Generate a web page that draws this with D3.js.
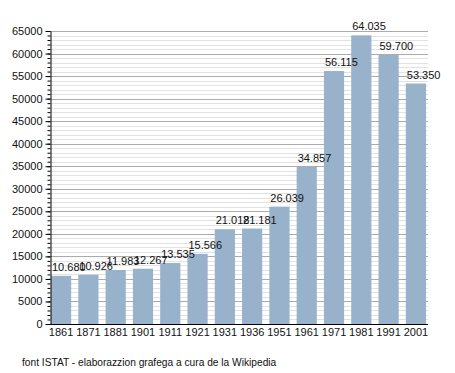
<!DOCTYPE html>
<html>
<head>
<meta charset="utf-8">
<script src="https://cdn.jsdelivr.net/npm/d3@7"></script>
<style>
  body { margin: 0; background: #fff; }
  svg { font-family: "Liberation Sans", Arial, sans-serif; }
</style>
</head>
<body>
<div id="chart"></div>
<script>
// Population by census year.
const years = ["1861", "1871", "1881", "1901", "1911", "1921", "1931", "1936", "1951", "1961", "1971", "1981", "1991", "2001"];
const population = [10680, 10926, 11983, 12267, 13535, 15566, 21018, 21181, 26039, 34857, 56115, 64035, 59700, 53350];
const valueLabels = ["10.680", "10.926", "11.983", "12.267", "13.535", "15.566", "21.018", "21.181", "26.039", "34.857", "56.115", "64.035", "59.700", "53.350"];
const yTicks = [0, 5000, 10000, 15000, 20000, 25000, 30000, 35000, 40000, 45000, 50000, 55000, 60000, 65000];
const footer = "font ISTAT - elaborazzion grafega a cura de la Wikipedia";

const width = 455;
const height = 373;
const marginLeft = 51;
const plotRight = 428;
const marginTop = 31;
const bottomY = 324;

const svg = d3.select("#chart").append("svg")
    .attr("width", width)
    .attr("height", height);

// Scales.
const x = d3.scaleBand()
    .domain(years)
    .range([marginLeft, plotRight - 2])
    .paddingInner(0.26)
    .paddingOuter(0);

const y = d3.scaleLinear()
    .domain([0, 65000])
    .range([bottomY, marginTop]);

// Minor grid lines every 1000, major every 5000.
const minor = d3.range(1000, 65001, 1000).filter(v => v % 5000 !== 0);
svg.append("g")
    .selectAll("line")
    .data(minor)
    .join("line")
    .attr("x1", marginLeft)
    .attr("x2", plotRight)
    .attr("y1", d => Math.round(y(d)) + 0.5)
    .attr("y2", d => Math.round(y(d)) + 0.5)
    .attr("stroke", "#e2e2e2");

svg.append("g")
    .selectAll("line")
    .data(yTicks.filter(v => v > 0))
    .join("line")
    .attr("x1", marginLeft)
    .attr("x2", plotRight)
    .attr("y1", d => Math.round(y(d)) + 0.5)
    .attr("y2", d => Math.round(y(d)) + 0.5)
    .attr("stroke", "#ababab");

// Bars.
svg.append("g")
    .selectAll("rect")
    .data(population)
    .join("rect")
    .attr("x", (d, i) => x(years[i]))
    .attr("y", d => y(d))
    .attr("width", x.bandwidth())
    .attr("height", d => bottomY - y(d))
    .attr("fill", "#98b2cc");

// Value labels, left aligned to each bar (they overlap like in the source).
svg.append("g")
    .selectAll("text")
    .data(population)
    .join("text")
    .attr("x", (d, i) => x(years[i]) + 1)
    .attr("y", d => y(d) - 5)
    .attr("font-size", 11)
    .attr("fill", "#111")
    .text((d, i) => valueLabels[i]);

// Y axis with minor ticks.
svg.append("g")
    .attr("transform", `translate(${marginLeft - 0.5},0)`)
    .call(d3.axisLeft(y).tickValues(d3.range(0, 65001, 1000)).tickSize(3).tickFormat(""))
    .call(g => g.select(".domain").remove())
    .call(g => g.selectAll(".tick line").attr("stroke", "#000"));

svg.append("g")
    .attr("transform", `translate(${marginLeft - 0.5},0)`)
    .call(d3.axisLeft(y).tickValues(yTicks).tickSize(5).tickPadding(3).tickFormat(d3.format("d")).tickSizeOuter(0))
    .call(g => g.select(".domain").attr("stroke", "#000"))
    .call(g => g.selectAll(".tick line").attr("stroke", "#000"))
    .call(g => g.selectAll(".tick text").attr("font-size", 11).attr("font-family", "Liberation Sans, Arial, sans-serif").attr("fill", "#111"));

// X axis.
svg.append("g")
    .attr("transform", `translate(0,${bottomY + 0.5})`)
    .call(d3.axisBottom(x).tickSize(0).tickPadding(4).tickSizeOuter(0))
    .call(g => g.select(".domain").attr("stroke", "#000").attr("d", `M${marginLeft - 1},0H${plotRight}`))
    .call(g => g.selectAll(".tick text").attr("font-size", 11).attr("font-family", "Liberation Sans, Arial, sans-serif").attr("fill", "#111"));

// Source note.
svg.append("text")
    .attr("x", 22)
    .attr("y", 366)
    .attr("font-size", 10.2)
    .attr("fill", "#111")
    .text(footer);
</script>
</body>
</html>
